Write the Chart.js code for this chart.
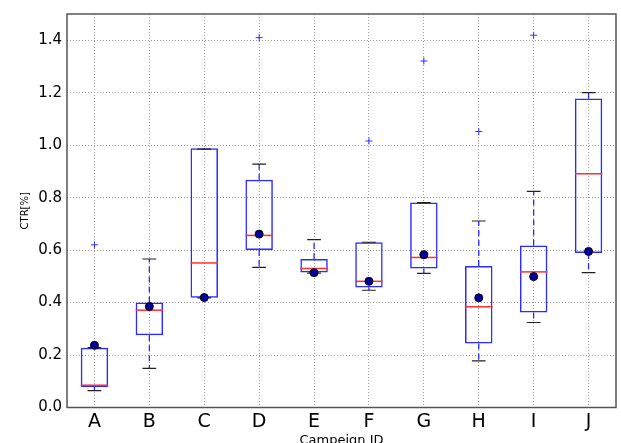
<!DOCTYPE html>
<html>
<head>
<meta charset="utf-8">
<script src="https://cdn.jsdelivr.net/npm/chart.js@4.4.0/dist/chart.umd.min.js"></script>
<style>
  body { margin: 0; background: #fff; }
  canvas { display: block; }
</style>
</head>
<body>
<canvas id="graphic-ctr" width="621" height="443"></canvas>
<script>
const labels = ['A', 'B', 'C', 'D', 'E', 'F', 'G', 'H', 'I', 'J'];
const q1 = [0.078, 0.275, 0.418, 0.600, 0.515, 0.457, 0.530, 0.244, 0.362, 0.589];
const q3 = [0.228, 0.400, 0.988, 0.868, 0.566, 0.630, 0.781, 0.539, 0.618, 1.178];
const medians = [0.085, 0.371, 0.551, 0.656, 0.530, 0.481, 0.572, 0.384, 0.517, 0.891];
const means = [0.237, 0.385, 0.419, 0.661, 0.514, 0.481, 0.582, 0.418, 0.499, 0.595];
const whiskLo = [0.064, 0.149, 0.418, 0.534, 0.512, 0.447, 0.511, 0.178, 0.324, 0.514];
const whiskHi = [0.228, 0.566, 0.985, 0.928, 0.640, 0.630, 0.781, 0.711, 0.824, 1.200];
const outliers = [0.620, null, null, 1.410, null, 1.016, 1.321, 1.052, 1.419, null];
const yTicks = [0.0, 0.2, 0.4, 0.6, 0.8, 1.0, 1.2, 1.4];

const ctxCTR = document.getElementById('graphic-ctr');

// whiskers, caps and median lines, drawn right after the boxes
const boxExtras = {
    id: 'boxExtras',
    afterDatasetDraw(chart, args) {
        if (args.index !== 0) return;
        const x = chart.scales.x, y = chart.scales.y;
        const ctx = chart.ctx;
        const half = x.getPixelForValue(1) - x.getPixelForValue(0);
        ctx.save();
        labels.forEach(function(l, i) {
            const cx = x.getPixelForValue(i);
            // dashed whiskers
            ctx.strokeStyle = '#2b2bff';
            ctx.lineWidth = 1.3;
            ctx.setLineDash([6, 4]);
            ctx.beginPath();
            ctx.moveTo(cx, y.getPixelForValue(q3[i]));
            ctx.lineTo(cx, y.getPixelForValue(whiskHi[i]));
            ctx.moveTo(cx, y.getPixelForValue(q1[i]));
            ctx.lineTo(cx, y.getPixelForValue(whiskLo[i]));
            ctx.stroke();
            ctx.setLineDash([]);
            // caps
            ctx.strokeStyle = '#222';
            ctx.lineWidth = 1.2;
            ctx.beginPath();
            [whiskHi[i], whiskLo[i]].forEach(function(v) {
                const py = y.getPixelForValue(v);
                ctx.moveTo(cx - half * 0.125, py);
                ctx.lineTo(cx + half * 0.125, py);
            });
            ctx.stroke();
            // median
            ctx.strokeStyle = '#ff3030';
            ctx.lineWidth = 1.5;
            ctx.beginPath();
            const my = y.getPixelForValue(medians[i]);
            ctx.moveTo(cx - half * 0.25, my);
            ctx.lineTo(cx + half * 0.25, my);
            ctx.stroke();
        });
        ctx.restore();
    },
    afterDraw(chart) {
        const a = chart.chartArea;
        const ctx = chart.ctx;
        ctx.save();
        ctx.strokeStyle = '#555';
        ctx.lineWidth = 1.5;
        ctx.strokeRect(a.left, a.top, a.right - a.left, a.bottom - a.top);
        ctx.restore();
    }
};

new Chart(ctxCTR, {
    type: 'bar',
    data: {
        labels: labels,
        datasets: [{
            label: 'box',
            data: labels.map((l, i) => [q1[i], q3[i]]),
            backgroundColor: 'rgba(0,0,0,0)',
            borderColor: '#2b2bff',
            borderWidth: 1.5,
            borderSkipped: false,
            barPercentage: 0.5,
            categoryPercentage: 1,
            order: 2
        }, {
            type: 'line',
            label: 'mean',
            data: means,
            showLine: false,
            pointStyle: 'circle',
            pointRadius: 4,
            pointBackgroundColor: '#0000a0',
            pointBorderColor: '#000',
            pointBorderWidth: 1,
            order: 0
        }, {
            type: 'line',
            label: 'outliers',
            data: outliers,
            showLine: false,
            pointStyle: 'cross',
            pointRadius: 3.5,
            pointBorderColor: '#3030ff',
            pointBorderWidth: 1,
            order: 1
        }]
    },
    options: {
        responsive: false,
        maintainAspectRatio: false,
        animation: false,
        layout: { padding: { top: 12, right: 5, left: 0, bottom: 0 } },
        scales: {
            x: {
                offset: true,
                grid: {
                    offset: false,
                    color: '#999',
                    lineWidth: 1,
                    drawTicks: false
                },
                border: { display: false, dash: [1, 2] },
                ticks: {
                    color: '#000',
                    padding: 3,
                    font: { family: 'DejaVu Sans', size: 19 }
                },
                title: {
                    display: true,
                    text: 'Campeign ID',
                    color: '#000',
                    font: { family: 'DejaVu Sans', size: 13 },
                    padding: { top: 0, bottom: -5 }
                },
                afterFit: function(s) { s.height = 35.5; }
            },
            y: {
                min: 0,
                max: 1.5,
                afterBuildTicks: function(s) { s.ticks = yTicks.map(v => ({ value: v })); },
                grid: {
                    color: '#999',
                    lineWidth: 1,
                    drawTicks: false
                },
                border: { display: false, dash: [1, 2] },
                ticks: {
                    color: '#000',
                    padding: 5,
                    font: { family: 'DejaVu Sans', size: 15 },
                    callback: function(v) { return v.toFixed(1); }
                },
                title: {
                    display: true,
                    text: 'CTR[%]',
                    color: '#000',
                    font: { family: 'DejaVu Sans', size: 10 },
                    padding: { top: 19, bottom: 0 }
                },
                afterFit: function(s) { s.width = 67; }
            }
        },
        plugins: {
            legend: { display: false },
            tooltip: { enabled: false }
        }
    },
    plugins: [boxExtras]
});
</script>
</body>
</html>
